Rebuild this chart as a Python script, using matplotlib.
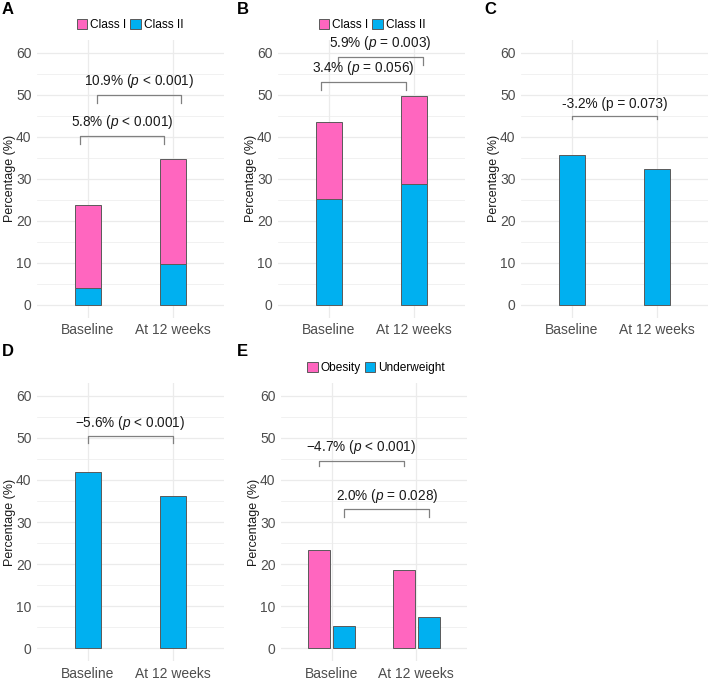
import matplotlib
matplotlib.use("Agg")
import matplotlib.pyplot as plt
from matplotlib.patches import Patch
import numpy as np

plt.rcParams['font.family'] = ['Liberation Sans', 'DejaVu Sans']
plt.rcParams['mathtext.fontset'] = 'custom'
plt.rcParams['mathtext.rm'] = 'Liberation Sans'
plt.rcParams['mathtext.it'] = 'Liberation Sans:italic'

# data
timepoints = ["Baseline", "At 12 weeks"]
a_class1 = [19.7, 25.0]     # pink part (stacked on top)
a_class2 = [4.0, 9.7]
b_class1 = [18.4, 20.9]
b_class2 = [25.2, 28.7]
c_values = [35.6, 32.3]
d_values = [41.8, 36.2]
e_obesity = [23.3, 18.6]
e_underweight = [5.3, 7.4]

PINK = "#FF66BF"
BLUE = "#00B0F0"
EDGE = "#5A5A5A"
GRIDC = "#EBEBEB"
TXT = "#4D4D4D"

W, H = 708, 681
fig = plt.figure(figsize=(W / 100, H / 100), dpi=100)


def rect(l, r, t, b):
    return [l / W, 1 - b / H, (r - l) / W, (b - t) / H]


def style(ax, left):
    ax.set_xlim(0.4, 2.6)
    ax.set_ylim(-3, 63)
    ax.set_yticks(np.arange(0, 61, 10))
    ax.set_yticks(np.arange(5, 60, 10), minor=True)
    ax.set_xticks([1, 2])
    ax.set_xticklabels(timepoints)
    ax.tick_params(axis='y', length=0, labelsize=10, colors=TXT, pad=4)
    ax.tick_params(axis='x', length=0, labelsize=10, colors=TXT, pad=4)
    ax.tick_params(which='minor', length=0)
    ax.grid(True, which='major', color=GRIDC, lw=0.9)
    ax.grid(True, which='minor', axis='y', color=GRIDC, lw=0.5)
    ax.set_axisbelow(True)
    for s in ax.spines.values():
        s.set_visible(False)
    ax.set_ylabel("Percentage (%)", fontsize=9.0, color="#1A1A1A")
    # label sits just left of the tick numbers
    width_px = ax.get_position().width * W
    ax.yaxis.set_label_coords(-(left) / width_px, 0.5)


def bracket(ax, x1, x2, y, tip, label):
    ax.plot([x1, x1, x2, x2], [y - tip, y, y, y - tip], color="#808080", lw=0.9)
    ax.text((x1 + x2) / 2, y + 1.1, label, ha='center', va='bottom', fontsize=9.8, color="#1A1A1A")


x = np.array([1, 2])
bw = 0.3

# A
axA = fig.add_axes(rect(37, 224, 40, 317.6))
style(axA, 21)
axA.bar(x, a_class2, bw, color=BLUE, edgecolor=EDGE, lw=0.7)
axA.bar(x, a_class1, bw, bottom=a_class2, color=PINK, edgecolor=EDGE, lw=0.7)
bracket(axA, 0.9, 1.9, 40.2, 2.0, r"5.8% ($p$ < 0.001)")
bracket(axA, 1.1, 2.1, 50.0, 2.0, r"10.9% ($p$ < 0.001)")

# B
axB = fig.add_axes(rect(278, 465, 40, 317.6))
style(axB, 21)
axB.bar(x, b_class2, bw, color=BLUE, edgecolor=EDGE, lw=0.7)
axB.bar(x, b_class1, bw, bottom=b_class2, color=PINK, edgecolor=EDGE, lw=0.7)
bracket(axB, 0.9, 1.9, 53.0, 2.0, r"3.4% ($p$ = 0.056)")
bracket(axB, 1.1, 2.1, 59.0, 2.0, r"5.9% ($p$ = 0.003)")

# C
axC = fig.add_axes(rect(521, 708, 40, 317.6))
style(axC, 21)
axC.bar(x, c_values, bw, color=BLUE, edgecolor=EDGE, lw=0.7)
bracket(axC, 1.0, 2.0, 45.0, 0.7, "-3.2% (p = 0.073)")

# D
axD = fig.add_axes(rect(37, 224, 383, 661))
style(axD, 21)
axD.bar(x, d_values, bw, color=BLUE, edgecolor=EDGE, lw=0.7)
bracket(axD, 1.0, 2.0, 50.3, 1.6, "\u22125.6% ($p$ < 0.001)")

# E
axE = fig.add_axes(rect(281, 467, 383, 661))
style(axE, 21)
ew = 0.26
axE.bar(x - 0.15, e_obesity, ew, color=PINK, edgecolor=EDGE, lw=0.7)
axE.bar(x + 0.15, e_underweight, ew, color=BLUE, edgecolor=EDGE, lw=0.7)
bracket(axE, 0.85, 1.85, 44.6, 1.3, "\u22124.7% ($p$ < 0.001)")
bracket(axE, 1.15, 2.15, 33.0, 1.7, r"2.0% ($p$ = 0.028)")


# legends
def legend(labels, cx, cy):
    handles = [Patch(facecolor=PINK, edgecolor=EDGE, lw=0.7),
               Patch(facecolor=BLUE, edgecolor=EDGE, lw=0.7)]
    fig.legend(handles, labels, loc='center', bbox_to_anchor=(cx / W, 1 - cy / H),
               ncol=2, frameon=False, fontsize=8.6, handlelength=0.9, handleheight=0.9,
               handletextpad=0.25, columnspacing=0.3, borderpad=0)


legend(["Class I", "Class II"], 130, 25)
legend(["Class I", "Class II"], 372, 25)
legend(["Obesity", "Underweight"], 376, 368)

# panel letters
for lab, px, py in [("A", 2, 10), ("B", 237, 10), ("C", 484, 10), ("D", 2, 352), ("E", 237, 352)]:
    fig.text(px / W, 1 - py / H, lab, fontsize=12, fontweight='bold', va='center', ha='left')

fig.savefig("out.png", dpi=100)
